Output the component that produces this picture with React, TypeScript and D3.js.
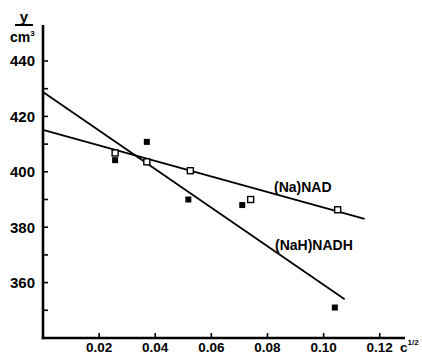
import React from "react";
import * as d3 from "d3";

// readings
const nadX = [0.0257, 0.037, 0.0525, 0.074, 0.105];
const nadY = [406.8, 403.6, 400.4, 390, 386.3];
const nadhX = [0.0257, 0.037, 0.0518, 0.071, 0.104];
const nadhY = [404.2, 410.8, 390, 388, 351];

// fitted lines (start / end)
const nadLineX = [0, 0.1146];
const nadLineY = [415.1, 383];
const nadhLineX = [0, 0.1075];
const nadhLineY = [428.8, 354];

const xTicks = [0.02, 0.04, 0.06, 0.08, 0.1, 0.12];
const xTickLabels = ["0.02", "0.04", "0.06", "0.08", "0.10", "0.12"];
const yTicks = [350, 360, 370, 380, 390, 400, 410, 420, 430, 440];
const yTickLabels = [360, 380, 400, 420, 440];

const W = 422;
const H = 355;
const font = "'Liberation Sans', Arial, sans-serif";

export default function App() {
  const x = d3.scaleLinear().domain([0, 0.129]).range([43, 405]);
  const y = d3.scaleLinear().domain([340, 453]).range([338, 25]);

  const line = d3
    .line<[number, number]>()
    .x((d) => x(d[0]))
    .y((d) => y(d[1]));

  const nadLine = line(nadLineX.map((v, i) => [v, nadLineY[i]]));
  const nadhLine = line(nadhLineX.map((v, i) => [v, nadhLineY[i]]));

  return (
    <svg
      width={W}
      height={H}
      style={{ position: "absolute", left: 0, top: 0, background: "#fff" }}
      fontFamily={font}
      fontWeight="bold"
    >
      {/* axes */}
      <line x1={x(0)} x2={x(0)} y1={y(453)} y2={y(340) + 1.2} stroke="#000" strokeWidth={2.6} />
      <line x1={x(0) - 1.2} x2={x(0.129)} y1={y(340)} y2={y(340)} stroke="#000" strokeWidth={2.6} />

      {yTicks.map((t) => (
        <line key={t} x1={x(0)} x2={x(0) + 5} y1={y(t)} y2={y(t)} stroke="#000" strokeWidth={1.6} />
      ))}
      {yTickLabels.map((t) => (
        <text key={t} x={35} y={y(t)} dy="0.36em" textAnchor="end" fontSize={15}>
          {t}
        </text>
      ))}

      {xTicks.map((t, i) => (
        <g key={t}>
          <line x1={x(t)} x2={x(t)} y1={y(340)} y2={y(340) - 5} stroke="#000" strokeWidth={1.6} />
          <text x={x(t)} y={351.5} textAnchor="middle" fontSize={13.5}>
            {xTickLabels[i]}
          </text>
        </g>
      ))}

      {/* axis titles */}
      <text x={24} y={22} textAnchor="middle" fontSize={15}>y</text>
      <line x1={15} x2={33} y1={25} y2={25} stroke="#000" strokeWidth={2} />
      <text x={10} y={42} fontSize={14}>
        cm<tspan fontSize={8} dy={-6}>3</tspan>
      </text>
      <text x={400} y={351.5} fontSize={13.5}>
        c<tspan fontSize={8} dy={-7}>1/2</tspan>
      </text>

      {/* fitted lines */}
      <path d={nadLine ?? ""} fill="none" stroke="#000" strokeWidth={1.8} />
      <path d={nadhLine ?? ""} fill="none" stroke="#000" strokeWidth={1.8} />

      {/* points */}
      {nadX.map((v, i) => (
        <rect
          key={"o" + i}
          x={x(v) - 3}
          y={y(nadY[i]) - 3}
          width={6}
          height={6}
          fill="#fff"
          stroke="#000"
          strokeWidth={1.4}
        />
      ))}
      {nadhX.map((v, i) => (
        <rect key={"f" + i} x={x(v) - 3} y={y(nadhY[i]) - 3} width={6} height={6} fill="#000" />
      ))}

      {/* series labels */}
      <text x={274} y={192} fontSize={14}>(Na)NAD</text>
      <text x={275} y={250} fontSize={14}>(NaH)NADH</text>
    </svg>
  );
}
